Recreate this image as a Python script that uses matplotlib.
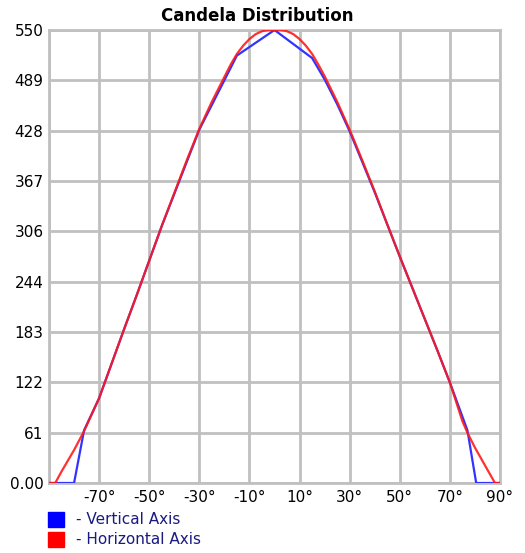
import numpy as np
import matplotlib
matplotlib.use("Agg")
import matplotlib.pyplot as plt
from matplotlib.patches import Rectangle

# angles (deg) and candela values
red_angles = [-90, -87.5, -85, -80, -76, -70, -65, -60, -55, -50, -45, -40, -35,
              -30, -25, -20, -17.5, -15, -12.5, -10, -7.5, -5, -2.5, 0,
              2.5, 5, 7.5, 10, 12.5, 15, 17.5, 20, 25, 30, 35, 40,
              45, 50, 55, 60, 65, 70, 75, 77, 80, 85, 88, 90]
red_values = [0, 0, 14, 40, 63, 103, 145, 187, 228, 270, 312, 352, 392,
              430, 463, 493, 508, 521, 531, 539, 545, 548.5, 550, 550,
              550, 548.5, 545, 539, 531, 521, 508, 494, 463, 429, 392, 354,
              314, 275, 237, 199, 161, 122, 75, 61, 43, 16, 0, 0]

blue_angles = [-90, -80, -76, -70, -65, -60, -55, -50, -45, -40, -35, -30, -25,
               -20, -15, 0, 15, 20, 25, 30, 35, 40, 45, 50, 55, 60, 65, 70, 77,
               80.5, 90]
blue_values = [0, 0, 64, 103, 145, 187, 228, 270, 312, 351, 390, 429, 459,
               489, 519, 550, 516, 490, 460, 427, 390, 353, 314, 275, 237, 199, 161, 122, 64,
               0, 0]

x_ticks = list(range(-90, 91, 20))
x_labels = [""] + [f"{v}\u00b0" for v in x_ticks[1:]]
y_ticks = np.linspace(0, 550, 10)
y_labels = ["0.00", "61", "122", "183", "244", "306", "367", "428", "489", "550"]

legend_labels = ["- Vertical Axis", "- Horizontal Axis"]
legend_colors = ["#0000ff", "#ff0000"]

W, H = 525, 553
fig = plt.figure(figsize=(W / 100, H / 100), dpi=100)
ax = fig.add_axes([49 / W, 1 - 483 / H, 451 / W, 453 / H])

ax.plot(blue_angles, blue_values, color="#3333ff", lw=1.6, zorder=3)
ax.plot(red_angles, red_values, color="#ff1a1a", lw=1.6, zorder=4, alpha=0.9)

ax.set_xlim(-90, 90)
ax.set_ylim(0, 550)
ax.set_xticks(x_ticks)
ax.set_xticklabels(x_labels, fontsize=11)
ax.set_yticks(y_ticks)
ax.set_yticklabels(y_labels, fontsize=11)
ax.tick_params(length=0, pad=5)
ax.tick_params(axis="y", pad=4)
ax.grid(True, color="#c0c0c0", lw=2)
for s in ax.spines.values():
    s.set_color("#c0c0c0")
    s.set_linewidth(2)

fig.text(257 / W, 1 - 16 / H, "Candela Distribution", ha="center", va="center",
         fontsize=12, fontweight="bold")

# legend drawn by hand below the axes
for i, (lab, col) in enumerate(zip(legend_labels, legend_colors)):
    top = 512 + i * 20
    fig.add_artist(Rectangle((48 / W, 1 - (top + 15) / H), 16 / W, 15 / H,
                             transform=fig.transFigure, color=col))
    fig.text(76 / W, 1 - (top + 8) / H, lab, ha="left", va="center",
             fontsize=11, color="#1a1a80")

fig.savefig("out.png", dpi=100)
